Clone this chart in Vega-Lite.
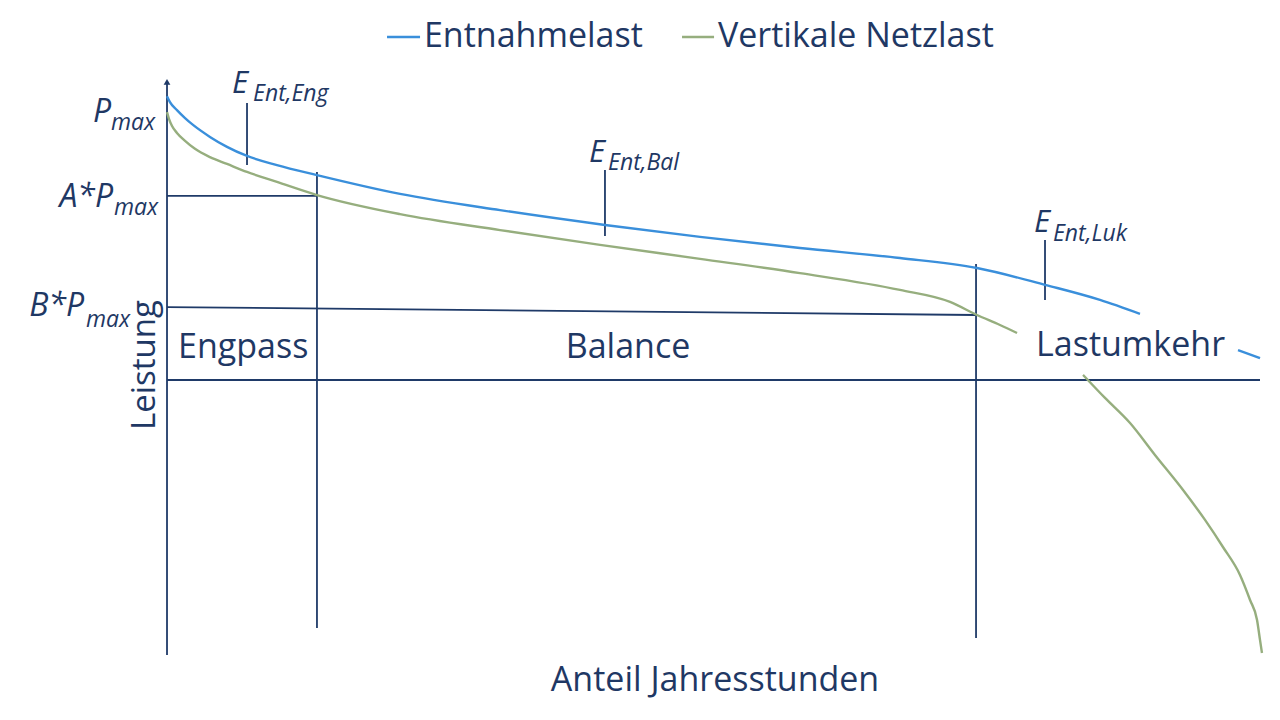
{
  "$schema": "https://vega.github.io/schema/vega-lite/v6.json",
  "width": 1280,
  "height": 720,
  "autosize": {"type": "fit", "contains": "padding"},
  "padding": 0,
  "background": "white",
  "config": {"view": {"stroke": null}, "font": "Open Sans"},
  "datasets": {
    "curves": [
      {"series": "Entnahmelast", "seg": "E1", "x": 0, "y": 99.6},
      {"series": "Entnahmelast", "seg": "E1", "x": 0.27, "y": 97.5},
      {"series": "Entnahmelast", "seg": "E1", "x": 0.91, "y": 94.7},
      {"series": "Entnahmelast", "seg": "E1", "x": 1.65, "y": 91.9},
      {"series": "Entnahmelast", "seg": "E1", "x": 2.38, "y": 89.5},
      {"series": "Entnahmelast", "seg": "E1", "x": 3.93, "y": 85.3},
      {"series": "Entnahmelast", "seg": "E1", "x": 5.49, "y": 81.8},
      {"series": "Entnahmelast", "seg": "E1", "x": 7.32, "y": 78.6},
      {"series": "Entnahmelast", "seg": "E1", "x": 10.06, "y": 75.4},
      {"series": "Entnahmelast", "seg": "E1", "x": 13.72, "y": 71.9},
      {"series": "Entnahmelast", "seg": "E1", "x": 21.32, "y": 65.3},
      {"series": "Entnahmelast", "seg": "E1", "x": 30.47, "y": 59.6},
      {"series": "Entnahmelast", "seg": "E1", "x": 40.07, "y": 54.4},
      {"series": "Entnahmelast", "seg": "E1", "x": 48.77, "y": 50.2},
      {"series": "Entnahmelast", "seg": "E1", "x": 57.91, "y": 46.3},
      {"series": "Entnahmelast", "seg": "E1", "x": 67.06, "y": 42.8},
      {"series": "Entnahmelast", "seg": "E1", "x": 74.11, "y": 39.3},
      {"series": "Entnahmelast", "seg": "E1", "x": 80.42, "y": 33.3},
      {"series": "Entnahmelast", "seg": "E1", "x": 85.36, "y": 28.1},
      {"series": "Entnahmelast", "seg": "E1", "x": 89.02, "y": 23.2},
      {"series": "Entnahmelast", "seg": "E2", "x": 97.99, "y": 10.5},
      {"series": "Entnahmelast", "seg": "E2", "x": 100, "y": 7.7},
      {"series": "Vertikale Netzlast", "seg": "V1", "x": 0, "y": 94.0},
      {"series": "Vertikale Netzlast", "seg": "V1", "x": 0.18, "y": 91.6},
      {"series": "Vertikale Netzlast", "seg": "V1", "x": 0.46, "y": 89.1},
      {"series": "Vertikale Netzlast", "seg": "V1", "x": 0.91, "y": 86.7},
      {"series": "Vertikale Netzlast", "seg": "V1", "x": 1.65, "y": 83.9},
      {"series": "Vertikale Netzlast", "seg": "V1", "x": 2.56, "y": 81.1},
      {"series": "Vertikale Netzlast", "seg": "V1", "x": 3.93, "y": 78.2},
      {"series": "Vertikale Netzlast", "seg": "V1", "x": 5.49, "y": 75.8},
      {"series": "Vertikale Netzlast", "seg": "V1", "x": 7.32, "y": 73.0},
      {"series": "Vertikale Netzlast", "seg": "V1", "x": 10.06, "y": 69.5},
      {"series": "Vertikale Netzlast", "seg": "V1", "x": 13.72, "y": 64.9},
      {"series": "Vertikale Netzlast", "seg": "V1", "x": 21.32, "y": 58.2},
      {"series": "Vertikale Netzlast", "seg": "V1", "x": 30.47, "y": 52.6},
      {"series": "Vertikale Netzlast", "seg": "V1", "x": 39.62, "y": 47.4},
      {"series": "Vertikale Netzlast", "seg": "V1", "x": 48.77, "y": 42.5},
      {"series": "Vertikale Netzlast", "seg": "V1", "x": 57.91, "y": 37.5},
      {"series": "Vertikale Netzlast", "seg": "V1", "x": 67.06, "y": 31.6},
      {"series": "Vertikale Netzlast", "seg": "V1", "x": 71.64, "y": 27.4},
      {"series": "Vertikale Netzlast", "seg": "V1", "x": 74.11, "y": 22.8},
      {"series": "Vertikale Netzlast", "seg": "V1", "x": 76.21, "y": 19.3},
      {"series": "Vertikale Netzlast", "seg": "V1", "x": 77.77, "y": 16.5},
      {"series": "Vertikale Netzlast", "seg": "V2", "x": 83.81, "y": 1.8},
      {"series": "Vertikale Netzlast", "seg": "V2", "x": 85.82, "y": -6.3},
      {"series": "Vertikale Netzlast", "seg": "V2", "x": 88.11, "y": -15.1},
      {"series": "Vertikale Netzlast", "seg": "V2", "x": 90.39, "y": -26.3},
      {"series": "Vertikale Netzlast", "seg": "V2", "x": 92.96, "y": -38.6},
      {"series": "Vertikale Netzlast", "seg": "V2", "x": 94.97, "y": -49.1},
      {"series": "Vertikale Netzlast", "seg": "V2", "x": 96.61, "y": -58.6},
      {"series": "Vertikale Netzlast", "seg": "V2", "x": 98.17, "y": -68.4},
      {"series": "Vertikale Netzlast", "seg": "V2", "x": 99.09, "y": -77.2},
      {"series": "Vertikale Netzlast", "seg": "V2", "x": 99.73, "y": -84.2},
      {"series": "Vertikale Netzlast", "seg": "V2", "x": 100.0, "y": -91.2},
      {"series": "Vertikale Netzlast", "seg": "V2", "x": 100.18, "y": -95.8}
    ],
    "segments": [
      {"name": "Leistungsachse", "x": 0, "y": -96.5, "x2": 0, "y2": 104.6},
      {"name": "Nulllinie", "x": 0, "y": 0, "x2": 100, "y2": 0},
      {"name": "A*Pmax", "x": 0, "y": 64.6, "x2": 13.72, "y2": 64.6},
      {"name": "B*Pmax", "x": 0, "y": 25.6, "x2": 73.93, "y2": 22.8},
      {"name": "Grenze Engpass", "x": 13.72, "y": 73.0, "x2": 13.72, "y2": -87.0},
      {"name": "Grenze Lastumkehr", "x": 74.02, "y": 40.7, "x2": 74.02, "y2": -90.5},
      {"name": "E Eng", "x": 7.32, "y": 97.2, "x2": 7.32, "y2": 75.4},
      {"name": "E Bal", "x": 40.07, "y": 73.7, "x2": 40.07, "y2": 50.5},
      {"name": "E Luk", "x": 80.33, "y": 49.1, "x2": 80.33, "y2": 28.1}
    ],
    "arrow": [
      {"x": 0, "y": 104.6}
    ],
    "legend": [
      {"series": "Entnahmelast", "x": 20.13, "x2": 23.15, "y": 120.35, "tx": 23.51},
      {"series": "Vertikale Netzlast", "x": 47.12, "x2": 50.05, "y": 120.35, "tx": 50.41}
    ],
    "labelsLeft": [
      {"label": "Engpass", "x": 1.01, "y": 11.2},
      {"label": "Lastumkehr", "x": 79.51, "y": 11.9}
    ],
    "labelsCenter": [
      {"label": "Balance", "x": 42.18, "y": 11.2},
      {"label": "Anteil Jahresstunden", "x": 50.14, "y": -105.6}
    ],
    "bigRight": [
      {"label": "P", "x": -5.12, "y": 94.0},
      {"label": "A*P", "x": -4.94, "y": 64.2},
      {"label": "B*P", "x": -7.59, "y": 26.0}
    ],
    "bigLeft": [
      {"label": "E", "x": 5.95, "y": 103.9},
      {"label": "E", "x": 38.61, "y": 79.6},
      {"label": "E", "x": 79.32, "y": 55.1}
    ],
    "subs": [
      {"label": "max", "x": -5.12, "y": 90.2},
      {"label": "max", "x": -4.85, "y": 60.4},
      {"label": "max", "x": -7.41, "y": 21.1},
      {"label": "Ent,Eng", "x": 7.87, "y": 100.4},
      {"label": "Ent,Bal", "x": 40.35, "y": 76.1},
      {"label": "Ent,Luk", "x": 81.06, "y": 51.2}
    ],
    "ylabel": [
      {"label": "Leistung", "x": -2.01, "y": 5.26}
    ]
  },
  "encoding": {
    "x": {"field": "x", "type": "quantitative", "axis": null,
          "scale": {"domain": [-15.28, 101.83], "zero": false, "nice": false}},
    "y": {"field": "y", "type": "quantitative", "axis": null,
          "scale": {"domain": [-119.3, 133.33], "zero": false, "nice": false}}
  },
  "layer": [
    {
      "data": {"name": "segments"},
      "mark": {"type": "rule", "color": "#1F3A68", "strokeWidth": 1.8},
      "encoding": {
        "x2": {"field": "x2"},
        "y2": {"field": "y2"}
      }
    },
    {
      "data": {"name": "arrow"},
      "mark": {"type": "point", "shape": "triangle-up", "filled": true, "color": "#1F3A68", "size": 45, "opacity": 1}
    },
    {
      "data": {"name": "curves"},
      "mark": {"type": "line", "interpolate": "monotone", "strokeWidth": 2.4},
      "encoding": {
        "detail": {"field": "seg"},
        "color": {"field": "series", "type": "nominal", "legend": null,
                  "scale": {"domain": ["Entnahmelast", "Vertikale Netzlast"], "range": ["#3A8FDB", "#96AE7E"]}}
      }
    },
    {
      "data": {"name": "legend"},
      "mark": {"type": "rule", "strokeWidth": 2.4},
      "encoding": {
        "x2": {"field": "x2"},
        "color": {"field": "series", "type": "nominal", "legend": null}
      }
    },
    {
      "data": {"name": "legend"},
      "mark": {"type": "text", "align": "left", "baseline": "middle", "fontSize": 34, "color": "#1F3864"},
      "encoding": {
        "x": {"field": "tx", "type": "quantitative"},
        "text": {"field": "series"}
      }
    },
    {
      "data": {"name": "labelsLeft"},
      "mark": {"type": "text", "align": "left", "baseline": "middle", "fontSize": 34, "color": "#1F3864"},
      "encoding": {"text": {"field": "label"}}
    },
    {
      "data": {"name": "labelsCenter"},
      "mark": {"type": "text", "align": "center", "baseline": "middle", "fontSize": 34, "color": "#1F3864"},
      "encoding": {"text": {"field": "label"}}
    },
    {
      "data": {"name": "ylabel"},
      "mark": {"type": "text", "align": "center", "baseline": "middle", "angle": 270, "fontSize": 33, "color": "#1F3864"},
      "encoding": {"text": {"field": "label"}}
    },
    {
      "data": {"name": "bigRight"},
      "mark": {"type": "text", "align": "right", "baseline": "middle", "fontSize": 32, "fontStyle": "italic", "color": "#1F3864"},
      "encoding": {"text": {"field": "label"}}
    },
    {
      "data": {"name": "bigLeft"},
      "mark": {"type": "text", "align": "left", "baseline": "middle", "fontSize": 31, "fontStyle": "italic", "color": "#1F3864"},
      "encoding": {"text": {"field": "label"}}
    },
    {
      "data": {"name": "subs"},
      "mark": {"type": "text", "align": "left", "baseline": "middle", "fontSize": 23, "fontStyle": "italic", "color": "#1F3864"},
      "encoding": {"text": {"field": "label"}}
    }
  ]
}
